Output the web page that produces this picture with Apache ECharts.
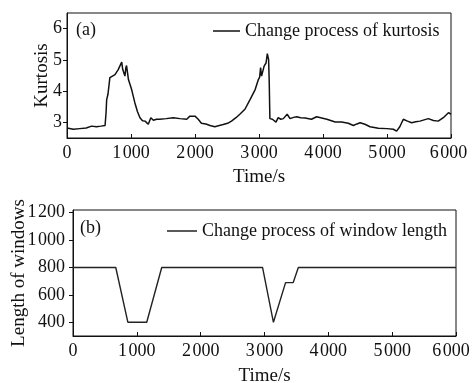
<!DOCTYPE html>
<html><head><meta charset="utf-8">
<script src="https://cdn.jsdelivr.net/npm/echarts@6/dist/echarts.min.js"></script>
<style>html,body{margin:0;padding:0;background:#fff}#c{width:473px;height:383px}</style>
</head><body><div id="c"></div>
<script>
var xTicks = [0, 1000, 2000, 3000, 4000, 5000, 6000];
var kurtTicks = [3, 4, 5, 6];
var winTicks = [400, 600, 800, 1000, 1200];
var kurtosisName = 'Change process of kurtosis';
var windowName = 'Change process of window length';
var kurtosis = [
 [0,2.82],[20,2.81],[100,2.78],[200,2.8],[300,2.82],[385,2.88],[460,2.86],[530,2.88],[595,2.9],[610,3.3],
 [620,3.73],[640,3.9],[670,4.43],[700,4.47],[750,4.53],[800,4.69],[830,4.72],[855,4.93],[870,4.7],[880,4.64],
 [905,4.48],[920,4.75],[930,4.82],[945,4.6],[960,4.37],[1010,4.05],[1060,3.63],[1100,3.35],[1140,3.15],[1180,3.05],
 [1220,3.04],[1270,2.94],[1300,2.97],[1310,3.15],[1350,3.07],[1400,3.1],[1450,3.1],[1550,3.12],[1660,3.15],[1765,3.12],
 [1870,3.1],[1920,3.2],[1950,3.25],[2000,3.2],[2025,3.15],[2050,3.1],[2080,3.04],[2100,2.97],[2170,2.95],[2235,2.9],
 [2310,2.86],[2380,2.9],[2440,2.93],[2510,2.97],[2570,3.04],[2640,3.15],[2700,3.26],[2780,3.42],[2860,3.73],[2940,4.05],
 [2990,4.37],[3010,4.45],[3025,4.75],[3040,4.48],[3080,4.8],[3110,4.9],[3130,5.2],[3150,5.01],[3160,4.27],[3170,3.12],
 [3210,3.1],[3265,3.01],[3300,3.15],[3340,3.1],[3380,3.12],[3440,3.26],[3485,3.12],[3540,3.16],[3590,3.18],[3650,3.15],
 [3720,3.14],[3820,3.1],[3900,3.18],[3980,3.14],[4060,3.1],[4120,3.06],[4190,3.01],[4290,3.01],[4395,2.97],[4475,2.9],
 [4530,2.95],[4580,2.99],[4655,2.94],[4735,2.86],[4865,2.81],[5000,2.8],[5100,2.78],[5150,2.72],[5200,2.86],[5255,3.1],
 [5320,3.04],[5385,2.99],[5450,3.02],[5515,3.04],[5580,3.08],[5645,3.12],[5725,3.06],[5800,3.04],[5880,3.15],[5960,3.31],[6000,3.26]
];
var windowLength = [
 [0,800],[670,800],[860,400],[1155,400],[1390,800],[2970,800],[3140,400],[3330,690],[3450,690],[3530,800],[6000,800]
];

var FONT = '"Liberation Serif", "Times New Roman", serif';
function fmt(v){ var s = String(v); return s.length > 3 ? s.slice(0, s.length-3) + '\u200A' + s.slice(-3) : s; }
function xAxis(gi, gap, shift){
  return {
    type:'value', gridIndex:gi, min:0, max:6000, interval:1000,
    name:'Time/s', nameLocation:'middle', nameGap:gap, nameMoveOverlap:false,
    nameTextStyle:{fontFamily:FONT, fontSize:19, color:'#111'},
    axisLine:{show:true, lineStyle:{color:'#111', width:1}},
    axisTick:{show:true, inside:true, length:4, lineStyle:{color:'#111'}},
    axisLabel:{fontFamily:FONT, fontSize:18, color:'#111', margin:6, hideOverlap:false,
      formatter:function(v){ return v === 6000 ? '{r|' + fmt(v) + '}' : fmt(v); },
      rich:{r:{fontFamily:FONT, fontSize:18, color:'#111', padding:[0, shift, 0, 0]}}},
    splitLine:{show:false}
  };
}
var chart = echarts.init(document.getElementById('c'), null, {renderer:'canvas'});
chart.setOption({
  animation:false,
  backgroundColor:'#fff',
  title:[
    {text:'(a)', left:71, top:16, textStyle:{fontFamily:FONT, fontSize:18, fontWeight:'normal', color:'#111'}},
    {text:'(b)', left:75, top:214, textStyle:{fontFamily:FONT, fontSize:18, fontWeight:'normal', color:'#111'}}
  ],
  legend:[
    {data:[kurtosisName], left:208, top:17, icon:'rect', itemWidth:27, itemHeight:1.5, itemGap:0,
     textStyle:{fontFamily:FONT, fontSize:18, color:'#111'}},
    {data:[windowName], left:162, top:217, icon:'rect', itemWidth:30, itemHeight:1.5, itemGap:0,
     textStyle:{fontFamily:FONT, fontSize:18, color:'#111'}}
  ],
  grid:[
    {left:67, right:22, top:13, height:125, show:true, borderColor:'#111', borderWidth:1, outerBoundsMode:'none', containLabel:false},
    {left:73, right:17, top:210, height:126, show:true, borderColor:'#111', borderWidth:1, outerBoundsMode:'none', containLabel:false}
  ],
  xAxis:[xAxis(0, 30, 5), xAxis(1, 31, 10)],
  yAxis:[
    {type:'value', gridIndex:0, min:2.5, max:6.5,
     name:'Kurtosis', nameLocation:'middle', nameGap:15, nameMoveOverlap:false,
     nameTextStyle:{fontFamily:FONT, fontSize:19, color:'#111'},
     axisLine:{show:true, lineStyle:{color:'#111'}},
     axisTick:{show:true, inside:false, length:4, customValues:kurtTicks, lineStyle:{color:'#111'}},
     axisLabel:{fontFamily:FONT, fontSize:18, color:'#111', margin:5, customValues:kurtTicks},
     splitLine:{show:false}},
    {type:'value', gridIndex:1, min:300, max:1220,
     name:'Length of windows', nameLocation:'middle', nameGap:44, nameMoveOverlap:false,
     nameTextStyle:{fontFamily:FONT, fontSize:19, color:'#111'},
     axisLine:{show:true, lineStyle:{color:'#111'}},
     axisTick:{show:true, inside:false, length:4, customValues:winTicks, lineStyle:{color:'#111'}},
     axisLabel:{fontFamily:FONT, fontSize:18, color:'#111', margin:8, customValues:winTicks, formatter:fmt},
     splitLine:{show:false}}
  ],
  series:[
    {name:kurtosisName, type:'line', xAxisIndex:0, yAxisIndex:0, data:kurtosis, symbol:'none',
     lineStyle:{color:'#111', width:1.5}, itemStyle:{color:'#111'}},
    {name:windowName, type:'line', xAxisIndex:1, yAxisIndex:1, data:windowLength, symbol:'none',
     lineStyle:{color:'#222', width:1.4}, itemStyle:{color:'#222'}}
  ]
});
</script></body></html>
